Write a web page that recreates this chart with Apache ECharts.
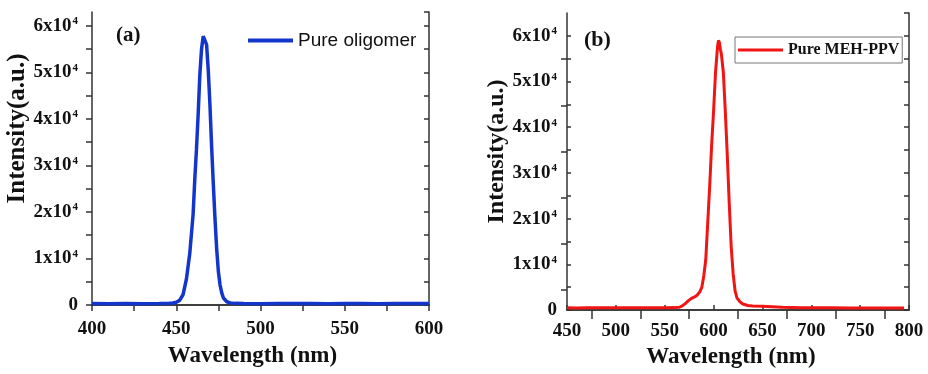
<!DOCTYPE html>
<html><head><meta charset="utf-8">
<script src="https://cdn.jsdelivr.net/npm/echarts@6/dist/echarts.min.js"></script>
<style>html,body{margin:0;padding:0;background:#fff}#c{width:928px;height:374px}</style>
</head><body><div id="c"></div>
<script>
// Panel (a): Pure oligomer
const wlA = [400,410,420,430,440,445,448,450,452,454,456,458,460,461,462,463,464,465,466,467,468,469,470,471,472,473,474,475,476,477,478,480,482,485,490,500,510,520,530,540,550,560,570,580,590,600];
const intA = [300,280,310,290,300,330,420,600,1000,2200,5500,11000,19500,27000,33500,41000,49500,55000,57800,58000,56000,50500,43000,34000,26000,18500,12000,7200,4300,2600,1500,700,450,350,300,290,320,300,310,290,300,300,290,300,310,300];
// Panel (b): Pure MEH-PPV
const wlB = [450,460,470,480,490,500,510,520,530,540,550,560,565,568,571,574,577,580,583,586,588,590,592,594,596,598,600,602,604,605,606,607,608,610,612,614,616,618,620,622,624,627,630,635,640,650,660,670,680,690,700,720,740,760,780,795];
const intB = [500,450,500,480,500,470,500,480,500,490,500,520,600,900,1400,2000,2500,2800,3200,4000,5000,7500,11000,19000,27000,36000,43500,52000,57500,59000,58500,57000,56000,52000,43500,34000,23500,14000,8000,4200,2600,1800,1300,1000,900,800,700,600,550,500,480,470,460,450,440,430];

const seriesNames = ['Pure oligomer', 'Pure MEH-PPV'];
const panelLabels = ['(a)', '(b)'];
const xNameText = 'Wavelength (nm)';
const yNameText = 'Intensity(a.u.)';

const serif = 'Liberation Serif';
const axisCol = '#333';
const blue = '#1236cc';
const red = '#f01414';

function yFmt(v) {
  if (v % 10000 !== 0) return '';
  if (v === 0) return '{n|0}';
  return '{n|' + (v / 10000) + 'x10}{s|4}';
}
const yRich = {
  n: {fontFamily: serif, fontWeight: 'bold', fontSize: 19, color: '#111', lineHeight: 20},
  s: {fontFamily: serif, fontWeight: 'bold', fontSize: 11, color: '#111', verticalAlign: 'top', lineHeight: 20, padding: [0, 0, 0, 1]}
};
const lineS = {show: true, lineStyle: {color: axisCol, width: 1.5}};

const chart = echarts.init(document.getElementById('c'));
chart.setOption({
  animation: false,
  backgroundColor: '#fff',
  grid: [
    {left: 92, top: 12, width: 337, height: 293},
    {left: 567, top: 13, width: 342, height: 300},
    {left: 567, top: 36, width: 342, height: 277}
  ],
  xAxis: [
    {gridIndex: 0, type: 'value', position: 'bottom', min: 400, max: 600, interval: 25,
     axisLine: lineS, splitLine: {show: false},
     axisTick: {show: true, length: 6, lineStyle: {color: axisCol, width: 1.5}},
     axisLabel: {margin: 15, formatter: v => v % 50 === 0 ? String(v) : '', fontFamily: serif, fontWeight: 'bold', fontSize: 19, color: '#111'},
     name: xNameText, nameLocation: 'middle', nameGap: 40,
     nameTextStyle: {fontFamily: serif, fontWeight: 'bold', fontSize: 23, color: '#111', padding: [0, 16, 0, 0]}},
    {gridIndex: 0, type: 'value', position: 'top', min: 400, max: 600, interval: 50,
     axisLine: lineS, splitLine: {show: false}, axisLabel: {show: false},
     axisTick: {show: false, inside: true},
     minorTick: {show: true, splitNumber: 2, length: 6, lineStyle: {color: axisCol, width: 1.5}}},
    {gridIndex: 1, type: 'value', position: 'bottom', min: 450, max: 800, interval: 50,
     axisLine: lineS, splitLine: {show: false},
     axisTick: {show: true, inside: true, length: 5, lineStyle: {color: axisCol, width: 1.5}},
     axisLabel: {margin: 12, fontFamily: serif, fontWeight: 'bold', fontSize: 19, color: '#111'},
     name: xNameText, nameLocation: 'middle', nameGap: 36,
     nameTextStyle: {fontFamily: serif, fontWeight: 'bold', fontSize: 23, color: '#111', padding: [0, 14, 0, 0]}},
    {gridIndex: 1, type: 'value', position: 'top', min: 450, max: 800, interval: 50,
     axisLine: lineS, splitLine: {show: false}, axisLabel: {show: false},
     axisTick: {show: false, inside: true},
     minorTick: {show: true, splitNumber: 2, length: 6, lineStyle: {color: axisCol, width: 1.5}}},
    {gridIndex: 2, type: 'value', position: 'bottom', min: 450, max: 800, interval: 50,
     axisLine: {show: false}, splitLine: {show: false}, axisLabel: {show: false},
     axisTick: {show: false},
     minorTick: {show: true, splitNumber: 2, length: 6, lineStyle: {color: axisCol, width: 1.5}}}
  ],
  yAxis: [
    {gridIndex: 0, type: 'value', position: 'left', min: 0, max: 63000, interval: 5000,
     axisLine: lineS, splitLine: {show: false},
     axisTick: {show: true, length: 6, lineStyle: {color: axisCol, width: 1.5}},
     axisLabel: {margin: 14, formatter: yFmt, rich: yRich, showMaxLabel: false},
     name: yNameText, nameLocation: 'middle', nameGap: 56,
     nameTextStyle: {fontFamily: serif, fontWeight: 'bold', fontSize: 25, color: '#111', padding: [0, 0, 0, 60]}},
    {gridIndex: 0, type: 'value', position: 'right', min: 0, max: 63000, interval: 5000,
     axisLine: lineS, splitLine: {show: false}, axisLabel: {show: false},
     axisTick: {show: true, inside: true, length: 5, lineStyle: {color: axisCol, width: 1.5}}},
    {gridIndex: 1, type: 'value', position: 'left', min: 0, max: 65000, interval: 5000,
     axisLine: lineS, splitLine: {show: false},
     axisTick: {show: true, inside: true, length: 4, lineStyle: {color: axisCol, width: 1.5}},
     axisLabel: {margin: 10, formatter: yFmt, rich: yRich, showMaxLabel: false},
     name: yNameText, nameLocation: 'middle', nameGap: 53,
     nameTextStyle: {fontFamily: serif, fontWeight: 'bold', fontSize: 24, color: '#111', padding: [0, 0, 0, 20]}},
    {gridIndex: 1, type: 'value', position: 'right', min: 0, max: 65000, interval: 5000,
     axisLine: lineS, splitLine: {show: false}, axisLabel: {show: false},
     axisTick: {show: true, inside: true, length: 5, lineStyle: {color: axisCol, width: 1.5}}},
    {gridIndex: 2, type: 'value', position: 'left', min: 0, max: 60000, interval: 10000,
     axisLine: {show: false}, splitLine: {show: false}, axisLabel: {show: false},
     axisTick: {show: false},
     minorTick: {show: true, splitNumber: 2, length: 6, lineStyle: {color: axisCol, width: 1.5}}}
  ],
  legend: [
    {data: [seriesNames[0]], left: 248, top: 31, icon: 'rect', itemWidth: 45, itemHeight: 4, padding: 0,
     textStyle: {fontFamily: 'Liberation Sans', fontSize: 19, color: '#111'}},
    {data: [seriesNames[1]], left: 735, top: 37, icon: 'rect', itemWidth: 45, itemHeight: 3, padding: [5, 3, 5, 3],
     borderColor: '#777', borderWidth: 1, borderRadius: 0,
     textStyle: {fontFamily: serif, fontWeight: 'bold', fontSize: 16, color: '#111'}}
  ],
  graphic: [
    {type: 'text', left: 116, top: 25, style: {text: panelLabels[0], font: 'bold 21px "Liberation Serif"', fill: '#111'}},
    {type: 'text', left: 584, top: 29, style: {text: panelLabels[1], font: 'bold 22px "Liberation Serif"', fill: '#111'}}
  ],
  series: [
    {name: seriesNames[0], type: 'line', xAxisIndex: 0, yAxisIndex: 0, symbol: 'none',
     lineStyle: {color: blue, width: 3.5}, itemStyle: {color: blue},
     data: wlA.map((w, i) => [w, intA[i]])},
    {name: seriesNames[1], type: 'line', xAxisIndex: 2, yAxisIndex: 2, symbol: 'none',
     lineStyle: {color: red, width: 3}, itemStyle: {color: red},
     data: wlB.map((w, i) => [w, intB[i]])}
  ]
});
</script>
</body></html>
